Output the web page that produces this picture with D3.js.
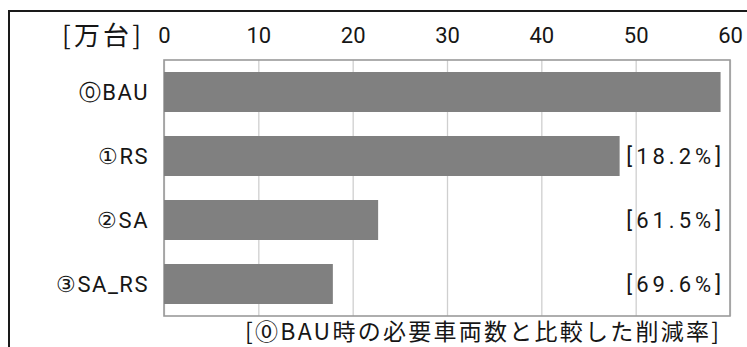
<!DOCTYPE html>
<html>
<head>
<meta charset="utf-8">
<script src="https://cdn.jsdelivr.net/npm/d3@7"></script>
<style>
  html, body { margin: 0; padding: 0; background: #fff; }
  svg { display: block; }
  text { fill: #161616; }
</style>
</head>
<body>
<svg id="chart" width="747" height="347"></svg>
<script>
// Required vehicle counts per scenario (unit: 10,000 vehicles)
const categories = ["⓪BAU", "①RS", "②SA", "③SA_RS"];
const vehicles = [59.0, 48.3, 22.7, 17.9];
// Reduction rate versus the BAU case
const reductionLabels = ["", "[18.2%]", "[61.5%]", "[69.6%]"];
const tickValues = [0, 10, 20, 30, 40, 50, 60];
const unitLabel = "[万台]";
const noteText = "[⓪BAU時の必要車両数と比較した削減率]";

const W = 747, H = 347;
const plot = { left: 164, right: 730, top: 60, bottom: 316 };
const latin = "Roboto, 'Liberation Sans', Arial, sans-serif";
const cjk = "'Noto Sans CJK JP', 'Noto Sans', sans-serif";

const svg = d3.select("#chart");

// Outer frame (left and top edges)
svg.append("path")
  .attr("d", `M9,${H} V11 H${W}`)
  .attr("fill", "none")
  .attr("stroke", "#1a1a1a")
  .attr("stroke-width", 2);

const x = d3.scaleLinear().domain([0, 60]).range([plot.left, plot.right]);
const y = d3.scaleBand()
  .domain(categories)
  .range([plot.top, plot.bottom])
  .paddingInner(0.375)
  .paddingOuter(0.1875);

// Vertical gridlines and top tick labels
const axis = svg.append("g")
  .attr("transform", `translate(0,${plot.top})`)
  .call(d3.axisTop(x)
    .tickValues(tickValues)
    .tickSize(-(plot.bottom - plot.top))
    .tickPadding(17)
    .tickFormat(d3.format("d")));
axis.select(".domain").remove();
axis.selectAll(".tick line").attr("stroke", "#cfcfcf").attr("stroke-width", 1.3);
axis.selectAll(".tick text")
  .attr("font-family", latin)
  .attr("font-size", 22)
  .style("fill", "#161616");

// Plot-area border
svg.append("rect")
  .attr("x", plot.left).attr("y", plot.top)
  .attr("width", plot.right - plot.left)
  .attr("height", plot.bottom - plot.top)
  .attr("fill", "none")
  .attr("stroke", "#9a9a9a")
  .attr("stroke-width", 1.6);

// Bars
svg.append("g").selectAll("rect")
  .data(categories)
  .join("rect")
  .attr("x", x(0))
  .attr("y", d => y(d))
  .attr("width", (d, i) => x(vehicles[i]) - x(0))
  .attr("height", y.bandwidth())
  .attr("fill", "#808080");

// Category labels
svg.append("g").selectAll("text")
  .data(categories)
  .join("text")
  .attr("x", 149)
  .attr("y", d => y(d) + y.bandwidth() / 2 + 8)
  .attr("text-anchor", "end")
  .attr("font-family", latin)
  .attr("font-size", 22)
  .attr("letter-spacing", 1.5)
  .text(d => d);

// Reduction-rate labels
svg.append("g").selectAll("text")
  .data(categories)
  .join("text")
  .attr("x", 725)
  .attr("y", d => y(d) + y.bandwidth() / 2 + 8)
  .attr("text-anchor", "end")
  .attr("font-family", latin)
  .attr("font-size", 22)
  .attr("letter-spacing", 4)
  .text((d, i) => reductionLabels[i]);

// Unit label
svg.append("text")
  .attr("x", 62).attr("y", 45)
  .attr("font-family", cjk)
  .attr("font-size", 26)
  .attr("textLength", 79)
  .attr("lengthAdjust", "spacing")
  .text(unitLabel);

// Footnote
svg.append("text")
  .attr("x", 245).attr("y", 340)
  .attr("font-family", cjk)
  .attr("font-size", 23)
  .attr("textLength", 474)
  .attr("lengthAdjust", "spacing")
  .text(noteText);
</script>
</body>
</html>
